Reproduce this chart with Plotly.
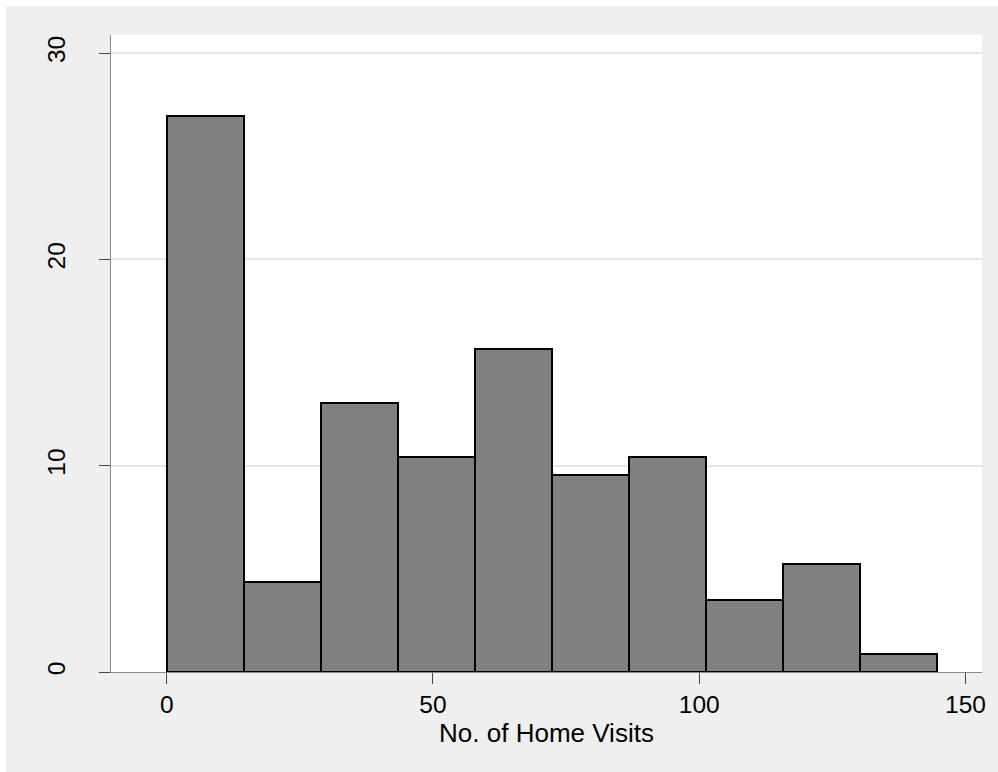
import numpy as np
import plotly.graph_objects as go

# Data
x_min = 0.0
x_max = 144.7
counts = [31, 5, 15, 12, 18, 11, 12, 4, 6, 1]
x_tick_vals = [0, 50, 100, 150]
y_tick_vals = [0, 10, 20, 30]
x_title = "No. of Home Visits"

n_bins = len(counts)
edges = np.linspace(x_min, x_max, n_bins + 1)
centers = (edges[:-1] + edges[1:]) / 2
width = edges[1] - edges[0]
percent = np.array(counts) / sum(counts) * 100

OFF = 6  # white strip at top/left only
W, H = 998, 772
ml, mr, mt, mb = 111, 16, 35, 100
pw = W - ml - mr
ph = H - mt - mb

FONT = "Liberation Sans, Arial, sans-serif"
OUTER = "#EFEFEF"

fig = go.Figure(go.Bar(
    x=centers, y=percent, width=[width] * n_bins,
    marker=dict(color="#808080", line=dict(color="#000000", width=2)),
))

fig.update_layout(
    width=W, height=H,
    margin=dict(l=ml, r=mr, t=mt, b=mb, pad=0),
    paper_bgcolor=OUTER, plot_bgcolor="white",
    font=dict(family=FONT, color="#000000"),
    showlegend=False,
    bargap=0,
    xaxis=dict(
        range=[-10.46, 153.1], tickvals=x_tick_vals, showgrid=False,
        zeroline=False, showline=True, linecolor="#8A8A8A", linewidth=1,
        ticks="outside", ticklen=11, tickcolor="#444444", tickwidth=1,
        tickfont=dict(size=24.5, family=FONT),
        title=dict(text=x_title, font=dict(size=26, family=FONT), standoff=0),
    ),
    yaxis=dict(
        range=[0, 30.88], tickvals=y_tick_vals, showgrid=True,
        gridcolor="#E6E6E6", gridwidth=2, zeroline=False,
        showline=True, linecolor="#8A8A8A", linewidth=1,
        ticks="outside", ticklen=11, tickcolor="#444444", tickwidth=1,
        tickangle=-90, ticklabelstandoff=24,
        tickfont=dict(size=24.5, family=FONT),
    ),
    shapes=[
        dict(type="rect", xref="paper", yref="paper",
             x0=-ml / pw, x1=(W - ml) / pw,
             y0=(ph + mt) / ph, y1=(ph + mt - OFF) / ph,
             fillcolor="white", line=dict(width=0)),
        dict(type="rect", xref="paper", yref="paper",
             x0=-ml / pw, x1=(OFF - ml) / pw,
             y0=-mb / ph, y1=(ph + mt) / ph,
             fillcolor="white", line=dict(width=0)),
    ],
)

fig.write_html(
    "out.html",
    config={"displayModeBar": False},
    post_script="document.documentElement.style.overflow='hidden';"
                "document.body.style.overflow='hidden';"
                "document.body.style.margin='0';",
)
